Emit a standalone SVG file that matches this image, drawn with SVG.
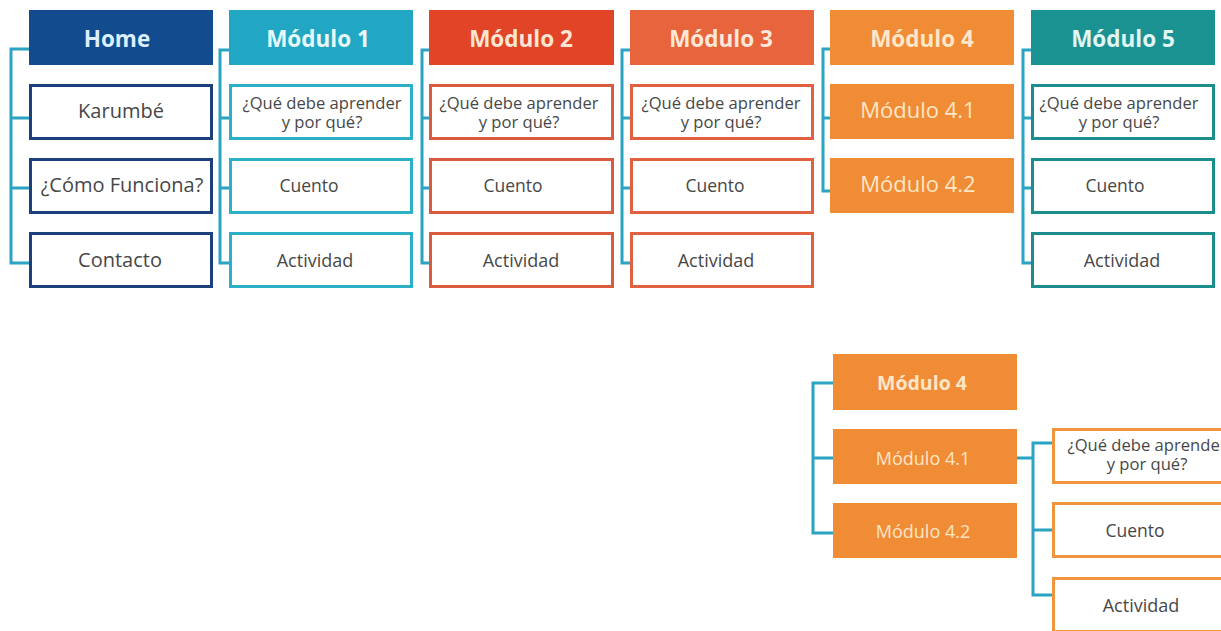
<svg xmlns="http://www.w3.org/2000/svg" width="1221" height="631" viewBox="0 0 1221 631">
<style>
.hd{font-family:"Open Sans","Liberation Sans",sans-serif;font-weight:bold;font-size:22.5px;text-anchor:middle}
.tx{font-family:"Open Sans","Liberation Sans",sans-serif;font-size:20px;fill:#474747;text-anchor:middle}
.sm{font-family:"Open Sans","Liberation Sans",sans-serif;font-size:16.6px;fill:#474747;text-anchor:middle}
.md{font-family:"Open Sans","Liberation Sans",sans-serif;font-size:17.5px;fill:#474747;text-anchor:middle}
.ac{font-family:"Open Sans","Liberation Sans",sans-serif;font-size:18px;fill:#474747;text-anchor:middle}
.sub{font-family:"Open Sans","Liberation Sans",sans-serif;font-size:22px;fill:#fde6c6;text-anchor:middle}
.box{fill:#ffffff;stroke-width:3}
.c{fill:none;stroke:#2ba3c2;stroke-width:3}
</style>
<rect width="1221" height="631" fill="#ffffff"/>
<g id="connectors">
<path class="c" d="M29,49 H11 V263 H29 M11,118 H29 M11,188 H29"/>
<path class="c" d="M229,50 H220 V263 H229 M220,118 H229 M220,188 H229"/>
<path class="c" d="M429,50 H422 V263 H429 M422,118 H429 M422,188 H429"/>
<path class="c" d="M630,50 H622 V263 H630 M622,118 H630 M622,188 H630"/>
<path class="c" d="M830,49 H823 V191 H830 M823,118 H830"/>
<path class="c" d="M1031,50 H1023 V263 H1031 M1023,118 H1031 M1023,188 H1031"/>
<path class="c" d="M833,383 H813 V533 H833 M813,458 H833"/>
<path class="c" d="M1017,458 H1033 M1052,443 H1033 V595 H1052 M1033,530 H1052"/>
</g>
<g id="home">
<rect x="29" y="10" width="184" height="55" fill="#124b8e"/>
<text class="hd" x="117" y="47" fill="#dcefff">Home</text>
</g>
<g id="karumbe">
<rect class="box" x="30.5" y="85.5" width="181" height="53" stroke="#1c3f7e"/>
<text class="tx" x="121" y="118">Karumbé</text>
</g>
<g id="como-funciona">
<rect class="box" x="30.5" y="159.5" width="181" height="53" stroke="#1c3f7e"/>
<text class="tx" x="122" y="192">¿Cómo Funciona?</text>
</g>
<g id="contacto">
<rect class="box" x="30.5" y="233.5" width="181" height="53" stroke="#1c3f7e"/>
<text class="tx" x="120" y="267">Contacto</text>
</g>
<g id="modulo1">
<rect x="229" y="10" width="184" height="55" fill="#21a7c4"/>
<text class="hd" x="318" y="47" fill="#e8f8fb">Módulo 1</text>
</g>
<g id="m1-que">
<rect class="box" x="230.5" y="85.5" width="181" height="53" stroke="#2bb0c7"/>
<text class="sm" x="322" y="109">¿Qué debe aprender<tspan x="322" dy="19">y por qué?</tspan></text>
</g>
<g id="m1-cuento">
<rect class="box" x="230.5" y="159.5" width="181" height="53" stroke="#2bb0c7"/>
<text class="md" x="309" y="192">Cuento</text>
</g>
<g id="m1-actividad">
<rect class="box" x="230.5" y="233.5" width="181" height="53" stroke="#2bb0c7"/>
<text class="ac" x="315" y="267">Actividad</text>
</g>
<g id="modulo2">
<rect x="429" y="10" width="185" height="55" fill="#e14426"/>
<text class="hd" x="521" y="47" fill="#fde6d4">Módulo 2</text>
</g>
<g id="m2-que">
<rect class="box" x="430.5" y="85.5" width="182" height="53" stroke="#d95a3e"/>
<text class="sm" x="519" y="109">¿Qué debe aprender<tspan x="519" dy="19">y por qué?</tspan></text>
</g>
<g id="m2-cuento">
<rect class="box" x="430.5" y="159.5" width="182" height="53" stroke="#d95a3e"/>
<text class="md" x="513" y="192">Cuento</text>
</g>
<g id="m2-actividad">
<rect class="box" x="430.5" y="233.5" width="182" height="53" stroke="#d95a3e"/>
<text class="ac" x="521" y="267">Actividad</text>
</g>
<g id="modulo3">
<rect x="630" y="10" width="184" height="55" fill="#e8643c"/>
<text class="hd" x="721" y="47" fill="#fde8da">Módulo 3</text>
</g>
<g id="m3-que">
<rect class="box" x="631.5" y="85.5" width="181" height="53" stroke="#e0603f"/>
<text class="sm" x="721" y="109">¿Qué debe aprender<tspan x="721" dy="19">y por qué?</tspan></text>
</g>
<g id="m3-cuento">
<rect class="box" x="631.5" y="159.5" width="181" height="53" stroke="#e0603f"/>
<text class="md" x="715" y="192">Cuento</text>
</g>
<g id="m3-actividad">
<rect class="box" x="631.5" y="233.5" width="181" height="53" stroke="#e0603f"/>
<text class="ac" x="716" y="267">Actividad</text>
</g>
<g id="modulo4">
<rect x="830" y="10" width="184" height="55" fill="#f08c36"/>
<text class="hd" x="922" y="47" fill="#fde7c8">Módulo 4</text>
</g>
<g id="modulo4-1">
<rect x="830" y="84" width="184" height="55" fill="#f08c36"/>
<text class="sub" x="918" y="118">Módulo 4.1</text>
</g>
<g id="modulo4-2">
<rect x="830" y="158" width="184" height="55" fill="#f08c36"/>
<text class="sub" x="918" y="192">Módulo 4.2</text>
</g>
<g id="modulo5">
<rect x="1031" y="10" width="184" height="55" fill="#1a9292"/>
<text class="hd" x="1123" y="47" fill="#e2f6f4">Módulo 5</text>
</g>
<g id="m5-que">
<rect class="box" x="1032.5" y="85.5" width="181" height="53" stroke="#1b8d8d"/>
<text class="sm" x="1119" y="109">¿Qué debe aprender<tspan x="1119" dy="19">y por qué?</tspan></text>
</g>
<g id="m5-cuento">
<rect class="box" x="1032.5" y="159.5" width="181" height="53" stroke="#1b8d8d"/>
<text class="md" x="1115" y="192">Cuento</text>
</g>
<g id="m5-actividad">
<rect class="box" x="1032.5" y="233.5" width="181" height="53" stroke="#1b8d8d"/>
<text class="ac" x="1122" y="267">Actividad</text>
</g>
<g id="b-modulo4">
<rect x="833" y="354" width="184" height="56" fill="#f08c36"/>
<text class="hd" x="922" y="390" fill="#fde7c8" style="font-size:19.5px">Módulo 4</text>
</g>
<g id="b-modulo4-1">
<rect x="833" y="429" width="184" height="55" fill="#f08c36"/>
<text class="sub" x="923" y="465" style="font-size:18px">Módulo 4.1</text>
</g>
<g id="b-modulo4-2">
<rect x="833" y="503" width="184" height="55" fill="#f08c36"/>
<text class="sub" x="923" y="538" style="font-size:18px">Módulo 4.2</text>
</g>
<g id="b-que">
<rect class="box" x="1053.5" y="429.5" width="181" height="53" stroke="#f0953f"/>
<text class="sm" x="1147" y="451">¿Qué debe aprender<tspan x="1147" dy="19">y por qué?</tspan></text>
</g>
<g id="b-cuento">
<rect class="box" x="1053.5" y="503.5" width="181" height="53" stroke="#f0953f"/>
<text class="md" x="1135" y="537">Cuento</text>
</g>
<g id="b-actividad">
<rect class="box" x="1053.5" y="578.5" width="181" height="53" stroke="#f0953f"/>
<text class="ac" x="1141" y="612">Actividad</text>
</g>
</svg>
